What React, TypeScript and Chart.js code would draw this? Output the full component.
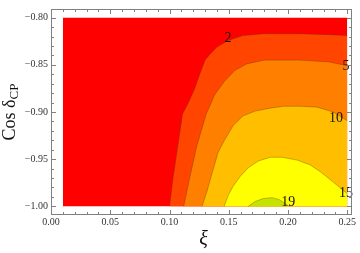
import React, { useEffect, useRef } from 'react';
import { Chart, registerables } from 'chart.js';

Chart.register(...registerables);

// ---- data ----
const xTicks = [0, 0.05, 0.1, 0.15, 0.2, 0.25];
const yTicks = [-1.0, -0.95, -0.9, -0.85, -0.8];
const xMinorTicks = [0.01, 0.02, 0.03, 0.04, 0.06, 0.07, 0.08, 0.09, 0.11, 0.12, 0.13, 0.14, 0.16, 0.17, 0.18, 0.19, 0.21, 0.22, 0.23, 0.24];
const yMinorTicks = [-0.99, -0.98, -0.97, -0.96, -0.94, -0.93, -0.92, -0.91, -0.89, -0.88, -0.87, -0.86, -0.84, -0.83, -0.82, -0.81];

const xAxisRange = [0, 0.254];
const yAxisRange = [-1.0092, -0.7908];

const domainX = [0.01, 0.25];
const domainY = [-1.0, -0.8];

const level2X = [0.100, 0.103, 0.107, 0.111, 0.116, 0.121, 0.126, 0.130, 0.134, 0.140, 0.150, 0.162, 0.180, 0.210, 0.235, 0.250];
const level2Y = [-1.000, -0.970, -0.936, -0.902, -0.890, -0.876, -0.858, -0.845, -0.839, -0.831, -0.824, -0.819, -0.817, -0.817, -0.818, -0.819];

const level5X = [0.112, 0.117, 0.123, 0.131, 0.138, 0.146, 0.155, 0.165, 0.180, 0.210, 0.235, 0.250];
const level5Y = [-1.000, -0.970, -0.936, -0.902, -0.882, -0.868, -0.856, -0.849, -0.845, -0.845, -0.847, -0.851];

const level10X = [0.1275, 0.1317, 0.1351, 0.141, 0.1461, 0.1537, 0.1621, 0.1723, 0.185, 0.196, 0.2103, 0.2247, 0.2382, 0.250];
const level10Y = [-1.000, -0.9837, -0.9684, -0.9429, -0.9306, -0.9143, -0.9041, -0.899, -0.8959, -0.8939, -0.8939, -0.8949, -0.900, -0.9092];

const level15X = [0.1461, 0.1494, 0.1537, 0.1596, 0.1664, 0.1748, 0.185, 0.1951, 0.2078, 0.2188, 0.2273, 0.2374, 0.2452, 0.250];
const level15Y = [-1.000, -0.9888, -0.9786, -0.9684, -0.9592, -0.952, -0.948, -0.948, -0.951, -0.9561, -0.9633, -0.9735, -0.9816, -0.9867];

const level19X = [0.1664, 0.1723, 0.179, 0.1866, 0.1926, 0.1976, 0.201];
const level19Y = [-1.000, -0.9949, -0.9918, -0.9908, -0.9929, -0.997, -1.000];

const bandColors = ['#ff0000', '#ff4500', '#ff8000', '#ffbf00', '#ffff00', '#c4e400'];

const contourLabels = ['2', '5', '10', '15', '19'];
const labelX = [0.1494, 0.249, 0.2405, 0.249, 0.2002];
const labelY = [-0.8224, -0.852, -0.907, -0.9857, -0.9959];

// ---- helpers ----
const pts = (xs: number[], ys: number[]) => xs.map((x, i) => ({ x, y: ys[i] }));
const fmt = (v: number) => Number(v).toFixed(2).replace('-', '\u2212');
const SERIF = '"Liberation Serif", "DejaVu Serif", serif';

const decorPlugin = {
  id: 'decor',
  afterDatasetsDraw(chart: any) {
    const { ctx, chartArea: a, scales } = chart;
    const xs = scales.x;
    const ys = scales.y;
    ctx.save();
    // contour labels
    ctx.fillStyle = '#111';
    ctx.font = `14px ${SERIF}`;
    ctx.textAlign = 'center';
    ctx.textBaseline = 'middle';
    contourLabels.forEach((t, i) => {
      ctx.fillText(t, xs.getPixelForValue(labelX[i]), ys.getPixelForValue(labelY[i]));
    });
    // frame
    const L = Math.round(a.left) + 0.5;
    const R = Math.round(a.right) - 0.5;
    const T = Math.round(a.top) + 0.5;
    const B = Math.round(a.bottom) - 0.5;
    ctx.strokeStyle = '#808080';
    ctx.lineWidth = 1;
    ctx.strokeRect(L, T, R - L, B - T);
    ctx.beginPath();
    const xt = (v: number, len: number) => {
      const p = Math.round(xs.getPixelForValue(v)) + 0.5;
      ctx.moveTo(p, B); ctx.lineTo(p, B - len);
      ctx.moveTo(p, T); ctx.lineTo(p, T + len);
    };
    const yt = (v: number, len: number) => {
      const p = Math.round(ys.getPixelForValue(v)) + 0.5;
      ctx.moveTo(L, p); ctx.lineTo(L + len, p);
      ctx.moveTo(R, p); ctx.lineTo(R - len, p);
    };
    xTicks.forEach((v) => xt(v, 4.5));
    xMinorTicks.forEach((v) => xt(v, 2.5));
    yTicks.forEach((v) => yt(v, 4.5));
    yMinorTicks.forEach((v) => yt(v, 2.5));
    ctx.stroke();
    ctx.restore();
  },
  afterDraw(chart: any) {
    const { ctx, chartArea: a } = chart;
    ctx.save();
    ctx.fillStyle = '#111';
    // y title
    const cy = (a.top + a.bottom) / 2;
    ctx.translate(14.5, cy);
    ctx.rotate(-Math.PI / 2);
    ctx.textBaseline = 'alphabetic';
    ctx.textAlign = 'left';
    const mainFont = `18px ${SERIF}`;
    const subFont = `13px ${SERIF}`;
    ctx.font = mainFont;
    const main = 'Cos \u03b4';
    const w1 = ctx.measureText(main).width;
    ctx.font = subFont;
    const w2 = ctx.measureText('CP').width;
    const x0 = -(w1 + w2) / 2;
    ctx.font = mainFont;
    ctx.fillText(main, x0, 0);
    ctx.font = subFont;
    ctx.fillText('CP', x0 + w1, 3.5);
    ctx.restore();
    // x title
    ctx.save();
    ctx.fillStyle = '#111';
    ctx.font = `italic 20px ${SERIF}`;
    ctx.textAlign = 'center';
    ctx.textBaseline = 'middle';
    ctx.fillText('\u03be', (a.left + a.right) / 2 + 2, 240);
    ctx.restore();
  },
};

export default function App() {
  const ref = useRef<HTMLCanvasElement | null>(null);
  useEffect(() => {
    document.body.style.margin = '0';
    const canvas = ref.current;
    if (!canvas) return;
    const lineColor = 'rgba(90,40,0,0.4)';
    const band = (xs: number[], ys: number[], color: string) => ({
      data: pts(xs, ys),
      backgroundColor: color,
      borderColor: lineColor,
      borderWidth: 0.8,
      fill: { value: domainY[0] },
      pointRadius: 0,
      tension: 0,
    });
    const datasets: any[] = [
      band(level19X, level19Y, bandColors[5]),
      band(level15X, level15Y, bandColors[4]),
      band(level10X, level10Y, bandColors[3]),
      band(level5X, level5Y, bandColors[2]),
      band(level2X, level2Y, bandColors[1]),
      {
        data: pts(domainX, [domainY[1], domainY[1]]),
        backgroundColor: bandColors[0],
        borderWidth: 0,
        borderColor: 'rgba(0,0,0,0)',
        fill: { value: domainY[0] },
        pointRadius: 0,
      },
    ];
    const tickFont = { family: SERIF, size: 10 };
    const chart = new Chart(canvas, {
      type: 'line',
      data: { datasets },
      options: {
        animation: false,
        responsive: true,
        maintainAspectRatio: false,
        layout: { padding: { top: 1, right: 8, left: 0, bottom: 0 } },
        plugins: { legend: { display: false }, tooltip: { enabled: false }, title: { display: false } },
        elements: { point: { radius: 0 } },
        scales: {
          x: {
            type: 'linear',
            min: xAxisRange[0],
            max: xAxisRange[1],
            grid: { display: false, drawTicks: false },
            border: { display: false },
            afterBuildTicks: (s: any) => { s.ticks = xTicks.map((v) => ({ value: v })); },
            afterFit: (s: any) => { s.height = 38; },
            ticks: { padding: 1, font: tickFont, color: '#333', maxRotation: 0, autoSkip: false, callback: (v: any) => fmt(v) },
          },
          y: {
            type: 'linear',
            min: yAxisRange[0],
            max: yAxisRange[1],
            grid: { display: false, drawTicks: false },
            border: { display: false },
            afterBuildTicks: (s: any) => { s.ticks = yTicks.map((v) => ({ value: v })); },
            afterFit: (s: any) => { s.width = 51; },
            ticks: { padding: 3, font: tickFont, color: '#333', autoSkip: false, callback: (v: any) => fmt(v) },
          },
        },
      } as any,
      plugins: [decorPlugin],
    });
    return () => chart.destroy();
  }, []);
  return (
    <div style={{ position: 'relative', width: 360, height: 253 }}>
      <canvas ref={ref} />
    </div>
  );
}
